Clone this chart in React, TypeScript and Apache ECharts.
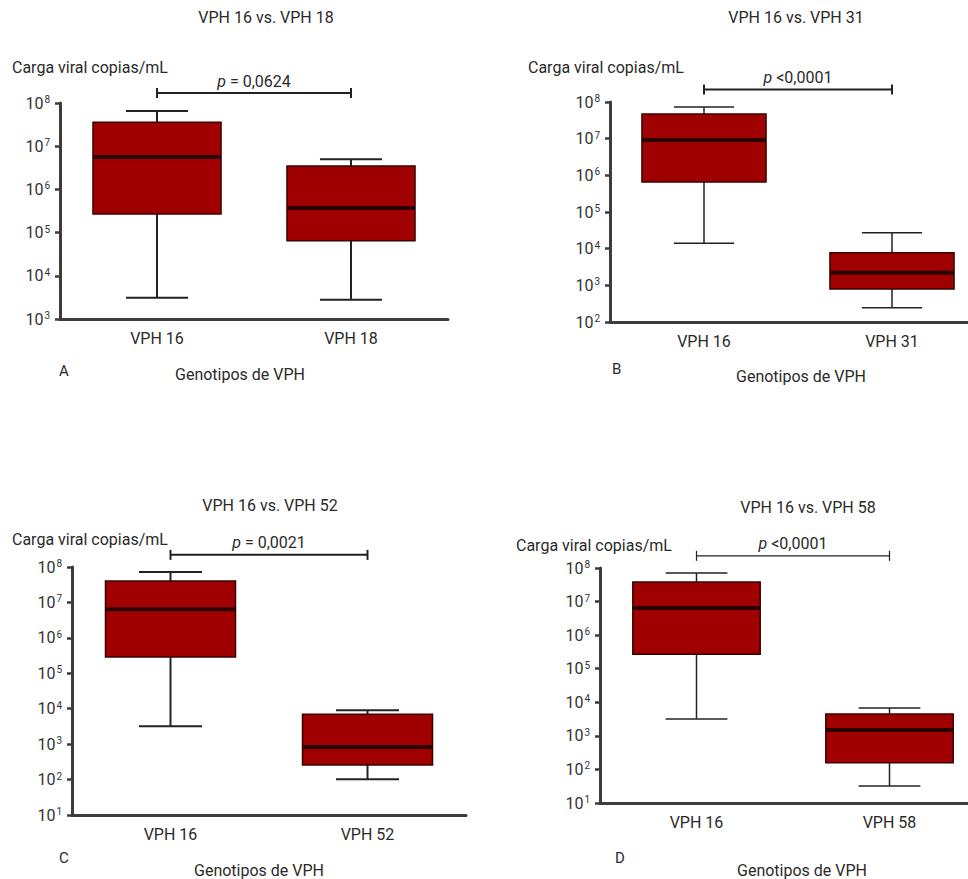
import React, { useEffect, useRef } from 'react';
import * as echarts from 'echarts';

// ---------- data ----------
const panelTitles = ['VPH 16 vs. VPH 18', 'VPH 16 vs. VPH 31', 'VPH 16 vs. VPH 52', 'VPH 16 vs. VPH 58'];
const panelLetters = ['A', 'B', 'C', 'D'];
const yAxisTitle = 'Carga viral copias/mL';
const xAxisTitle = 'Genotipos de VPH';

const categoriesA = ['VPH 16', 'VPH 18'];
const categoriesB = ['VPH 16', 'VPH 31'];
const categoriesC = ['VPH 16', 'VPH 52'];
const categoriesD = ['VPH 16', 'VPH 58'];

// [min, Q1, median, Q3, max]
const statsA16 = [3.1e3, 2.7e5, 5.6e6, 3.6e7, 6.5e7];
const statsA18 = [2.8e3, 6.5e4, 3.7e5, 3.5e6, 5.0e6];
const statsB16 = [1.4e4, 6.6e5, 9.2e6, 4.7e7, 7.3e7];
const statsB31 = [245, 800, 2.2e3, 7.7e3, 2.7e4];
const statsC16 = [3.2e3, 2.9e5, 6.4e6, 4.0e7, 7.2e7];
const statsC52 = [102, 257, 830, 7.0e3, 9.1e3];
const statsD16 = [3.2e3, 2.7e5, 6.4e6, 3.8e7, 7.1e7];
const statsD58 = [32, 158, 1.5e3, 4.5e3, 6.8e3];

const pLabels = ['= 0,0624', '<0,0001', '= 0,0021', '<0,0001'];
const bracketLevels = [1.7e8, 2.2e8, 2.2e8, 2.3e8];
const yMins = [1e3, 1e2, 1e1, 1e1];
const yMax = 1e8;

// ---------- layout ----------
const panels = [
  { cats: categoriesA, stats: [statsA16, statsA18] },
  { cats: categoriesB, stats: [statsB16, statsB31] },
  { cats: categoriesC, stats: [statsC16, statsC52] },
  { cats: categoriesD, stats: [statsD16, statsD58] },
];

const layouts = [
  { grid: { left: 60, top: 103, width: 388, height: 216 }, title: [266, 17], yName: [12, 67], letter: [59, 371], xName: [240, 374], whisker: 2, bracketW: 2 },
  { grid: { left: 610, top: 102, width: 376, height: 220 }, title: [796, 17], yName: [528, 67], letter: [612, 369], xName: [801, 376], whisker: 1.5, bracketW: 2 },
  { grid: { left: 72, top: 567, width: 394, height: 248 }, title: [270, 505], yName: [12, 539], letter: [59, 858], xName: [259, 870], whisker: 2, bracketW: 2 },
  { grid: { left: 600, top: 568, width: 386, height: 235 }, title: [808, 507], yName: [516, 545], letter: [615, 858], xName: [802, 870], whisker: 1.5, bracketW: 1.2 },
];

const FONT = 'Roboto, "Noto Sans", sans-serif';
const TEXT = '#2a2a2a';
const BOX_FILL = '#a00000';
const BOX_BORDER = '#3a0000';
const MEDIAN = '#2a0000';
const WHISKER = '#222';
const AXIS = '#3c3c3c';

function renderBox(whiskerW: number) {
  return (params: any, api: any) => {
    const c = api.value(0);
    const vals = [1, 2, 3, 4, 5].map((i) => api.value(i));
    const pts = vals.map((v) => api.coord([c, v]));
    const x = pts[0][0];
    const band = api.size([1, 0])[0];
    const bw = band * 0.33;
    const cw = band * 0.16;
    const yMin = pts[0][1];
    const yQ1 = pts[1][1];
    const yMed = pts[2][1];
    const yQ3 = pts[3][1];
    const yMaxP = pts[4][1];
    const ls = { stroke: WHISKER, lineWidth: whiskerW };
    return {
      type: 'group',
      children: [
        { type: 'line', shape: { x1: x, y1: yMaxP, x2: x, y2: yMin }, style: ls },
        { type: 'line', shape: { x1: x - cw, y1: yMaxP, x2: x + cw, y2: yMaxP }, style: ls },
        { type: 'line', shape: { x1: x - cw, y1: yMin, x2: x + cw, y2: yMin }, style: ls },
        {
          type: 'rect',
          shape: { x: x - bw, y: yQ3, width: bw * 2, height: yQ1 - yQ3 },
          style: { fill: BOX_FILL, stroke: BOX_BORDER, lineWidth: 1.5 },
        },
        { type: 'line', shape: { x1: x - bw, y1: yMed, x2: x + bw, y2: yMed }, style: { stroke: MEDIAN, lineWidth: 4 } },
      ],
    };
  };
}

function renderBracket(label: string, lw: number) {
  return (params: any, api: any) => {
    const a = api.coord([api.value(0), api.value(2)]);
    const b = api.coord([api.value(1), api.value(2)]);
    const ls = { stroke: '#222', lineWidth: lw };
    return {
      type: 'group',
      children: [
        { type: 'line', shape: { x1: a[0], y1: a[1], x2: b[0], y2: b[1] }, style: ls },
        { type: 'line', shape: { x1: a[0], y1: a[1] - 5, x2: a[0], y2: a[1] + 5 }, style: ls },
        { type: 'line', shape: { x1: b[0], y1: b[1] - 5, x2: b[0], y2: b[1] + 5 }, style: ls },
        {
          type: 'text',
          x: (a[0] + b[0]) / 2,
          y: a[1] - 4,
          style: {
            text: '{i|p} ' + label,
            textAlign: 'center',
            textVerticalAlign: 'bottom',
            fontSize: 16,
            fontFamily: FONT,
            fill: TEXT,
            rich: { i: { fontStyle: 'italic', fontSize: 16, fontFamily: FONT, fill: TEXT } },
          },
        },
      ],
    };
  };
}

function buildOption() {
  const grid: any[] = [];
  const xAxis: any[] = [];
  const yAxis: any[] = [];
  const series: any[] = [];
  const graphic: any[] = [];

  panels.forEach((p, i) => {
    const L = layouts[i];
    grid.push({ ...L.grid, containLabel: false, outerBoundsMode: 'none' });
    xAxis.push({
      type: 'category',
      gridIndex: i,
      data: p.cats,
      boundaryGap: true,
      axisLine: { onZero: false, lineStyle: { color: AXIS, width: 3 } },
      axisTick: { alignWithLabel: true, length: 5, lineStyle: { color: AXIS, width: 3 } },
      axisLabel: { color: TEXT, fontSize: 16, fontFamily: FONT, margin: 11 },
      splitLine: { show: false },
    });
    yAxis.push({
      type: 'log',
      logBase: 10,
      gridIndex: i,
      min: yMins[i],
      max: yMax,
      axisLine: { show: true, lineStyle: { color: AXIS, width: 3 } },
      axisTick: { show: true, length: 5, lineStyle: { color: AXIS, width: 2.5 } },
      splitLine: { show: false },
      axisLabel: {
        margin: 10,
        formatter: (v: number) => '{b|10}{s|' + Math.round(Math.log10(v)) + '}',
        rich: {
          b: { fontSize: 16, fontFamily: FONT, color: '#333', lineHeight: 17 },
          s: { fontSize: 10, fontFamily: FONT, color: '#333', lineHeight: 17, verticalAlign: 'top', padding: [0, 0, 0, 1] },
        },
      },
    });
    series.push({
      type: 'custom',
      coordinateSystem: 'cartesian2d',
      xAxisIndex: i,
      yAxisIndex: i,
      clip: false,
      renderItem: renderBox(L.whisker),
      encode: { x: 0, y: [1, 2, 3, 4, 5] },
      data: p.stats.map((s, k) => [k, ...s]),
    });
    series.push({
      type: 'custom',
      coordinateSystem: 'cartesian2d',
      xAxisIndex: i,
      yAxisIndex: i,
      clip: false,
      renderItem: renderBracket(pLabels[i], L.bracketW),
      encode: { x: [0, 1], y: 2 },
      data: [[0, 1, bracketLevels[i]]],
    });

    graphic.push(
      { type: 'text', x: L.title[0], y: L.title[1], style: { text: panelTitles[i], textAlign: 'center', textVerticalAlign: 'middle', fontSize: 16, fontFamily: FONT, fill: TEXT } },
      { type: 'text', x: L.yName[0], y: L.yName[1], style: { text: yAxisTitle, textAlign: 'left', textVerticalAlign: 'middle', fontSize: 16, fontFamily: FONT, fill: TEXT } },
      { type: 'text', x: L.letter[0], y: L.letter[1], style: { text: panelLetters[i], textAlign: 'left', textVerticalAlign: 'middle', fontSize: 15, fontFamily: FONT, fill: TEXT } },
      { type: 'text', x: L.xName[0], y: L.xName[1], style: { text: xAxisTitle, textAlign: 'center', textVerticalAlign: 'middle', fontSize: 16, fontFamily: FONT, fill: TEXT } }
    );
  });

  return {
    animation: false,
    backgroundColor: '#ffffff',
    grid,
    xAxis,
    yAxis,
    series,
    graphic,
  };
}

export default function App() {
  const ref = useRef<HTMLDivElement>(null);
  useEffect(() => {
    if (!ref.current) return;
    const chart = echarts.init(ref.current, null, { renderer: 'svg' });
    chart.setOption(buildOption() as any);
    return () => chart.dispose();
  }, []);
  return (
    <div
      ref={ref}
      style={{ position: 'fixed', left: 0, top: 0, width: 968, height: 879, background: '#fff' }}
    />
  );
}
